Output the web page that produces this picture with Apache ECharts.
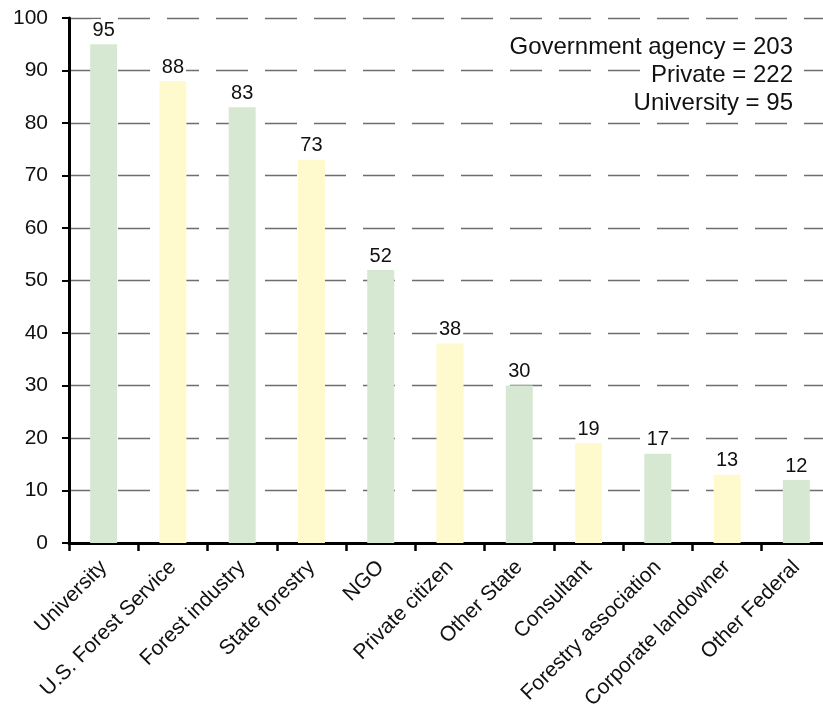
<!DOCTYPE html>
<html>
<head>
<meta charset="utf-8">
<script src="https://cdn.jsdelivr.net/npm/echarts@6/dist/echarts.min.js"></script>
<style>html,body{margin:0;padding:0;background:#fff}#c{width:823px;height:721px}</style>
</head>
<body>
<div id="c"></div>
<script>
var categories = ["University","U.S. Forest Service","Forest industry","State forestry","NGO","Private citizen","Other State","Consultant","Forestry association","Corporate landowner","Other Federal"];
var counts = [95,88,83,73,52,38,30,19,17,13,12];
var yTicks = [0,10,20,30,40,50,60,70,80,90,100];
var noteLines = ["Government agency = 203","Private = 222","University = 95"];

var FONT = "Liberation Sans, Arial, Helvetica, sans-serif";
var barColors = ["#d6e8d1","#fffacd"];
var chart = echarts.init(document.getElementById('c'), null, {renderer:'canvas'});
chart.setOption({
  backgroundColor:'#ffffff',
  animation:false,
  grid:{left:69,width:762,top:18,height:525,containLabel:false,outerBoundsMode:'none'},
  xAxis:{
    type:'category',
    data:categories,
    axisLine:{lineStyle:{color:'#000',width:3}},
    axisTick:{show:true,length:8,lineStyle:{color:'#000',width:2.5}},
    axisLabel:{rotate:45,interval:0,fontFamily:FONT,fontSize:21,color:'#111',margin:21},
    splitLine:{show:false}
  },
  yAxis:{
    type:'value',min:yTicks[0],max:yTicks[yTicks.length-1],interval:yTicks[1]-yTicks[0],
    axisLine:{show:true,lineStyle:{color:'#000',width:3}},
    axisTick:{show:true,length:7,lineStyle:{color:'#000',width:2}},
    axisLabel:{fontFamily:FONT,fontSize:21,color:'#111',margin:21},
    splitLine:{show:true,lineStyle:{color:'#6e6e6e',width:1.3,type:[32,17]}}
  },
  series:[{
    type:'bar',
    data:counts,
    barWidth:27,
    itemStyle:{color:function(p){return barColors[p.dataIndex%2];}},
    label:{show:true,position:'top',distance:3,fontFamily:FONT,fontSize:20,color:'#111',backgroundColor:'#fff',padding:[1,2]}
  }],
  graphic:noteLines.map(function(t,i){
    return {type:'text',right:27,top:34+i*28,z:100,
      style:{text:t,fontFamily:FONT,fontSize:24,fill:'#111',backgroundColor:'#fff',padding:[1,3]}};
  })
});
</script>
</body>
</html>
